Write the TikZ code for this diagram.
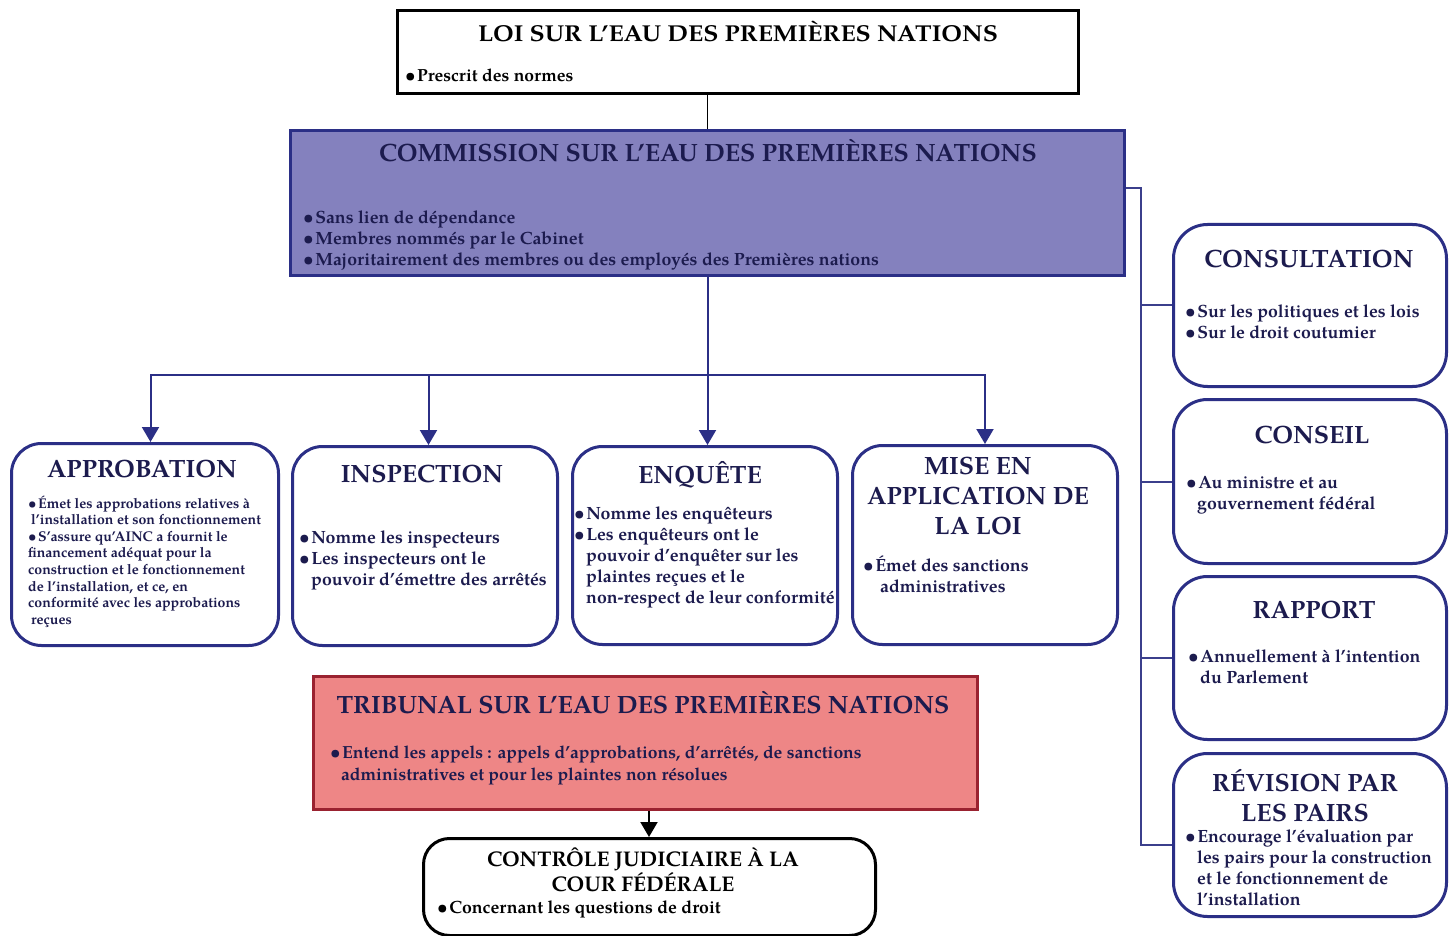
\documentclass[tikz,border=0pt]{standalone}
\usepackage{fontspec}
\setmainfont{texgyrepagella}[Extension=.otf, UprightFont=*-regular, BoldFont=*-bold]
\newfontfamily\wideb{texgyrepagella}[Extension=.otf, UprightFont=*-bold, BoldFont=*-bold, FakeStretch=1.08]
\usetikzlibrary{arrows.meta}
\definecolor{navy}{HTML}{2B2F86}
\definecolor{ink}{HTML}{1C1B4E}
\definecolor{comfill}{HTML}{8481BE}
\definecolor{tribfill}{HTML}{EE8686}
\definecolor{tribline}{HTML}{9A2230}
\definecolor{conn}{HTML}{3B3F8C}
\newcommand\bu{\textbullet\kern1.5pt}
\newcommand\ind[1]{\hspace*{#1pt}}
\begin{document}
\begin{tikzpicture}[x=1pt,y=-1pt,
  rbox/.style={draw=navy, line width=3pt, rounded corners=30pt, fill=white, inner sep=0pt, anchor=north west},
  sbox/.style={line width=3pt, inner sep=0pt, anchor=north west},
  ttl/.style={anchor=base, inner sep=0pt, text=ink, font=\bfseries\fontsize{25}{30}\selectfont},
  mttl/.style={anchor=north, inner sep=0pt, text=ink, align=center, font=\bfseries\fontsize{25}{30}\selectfont, execute at begin node=\strut},
  blt/.style={anchor=north west, inner sep=0pt, text=ink, align=left, font=\bfseries\fontsize{17.7}{21}\selectfont, execute at begin node=\strut},
  conline/.style={draw=conn, line width=2pt},
  arr/.style={draw=navy, line width=2pt, -{Triangle[width=17pt,length=15pt]}}
]
\useasboundingbox[fill=white] (0,0) rectangle (1452,936);

% ---- boxes
\node[sbox, draw=black, fill=white, minimum width=681pt, minimum height=83pt] (law) at (396,9) {};
\node[sbox, draw=navy, fill=comfill, minimum width=834pt, minimum height=145pt] (com) at (289,129) {};
\node[rbox, minimum width=267pt, minimum height=202pt] (appro) at (10,442) {};
\node[rbox, minimum width=265pt, minimum height=199pt] (insp) at (291,445) {};
\node[rbox, minimum width=265pt, minimum height=198pt] (enq) at (571,445) {};
\node[rbox, minimum width=265pt, minimum height=199pt] (mise) at (851,444) {};
\node[rbox, rounded corners=34pt, minimum width=273pt, minimum height=162pt] (consul) at (1172,223) {};
\node[rbox, rounded corners=34pt, minimum width=273pt, minimum height=164pt] (conseil) at (1172,398) {};
\node[rbox, rounded corners=34pt, minimum width=273pt, minimum height=163pt] (rapport) at (1172,575) {};
\node[rbox, rounded corners=34pt, minimum width=273pt, minimum height=163pt] (revision) at (1172,752) {};
\node[sbox, draw=tribline, fill=tribfill, minimum width=664pt, minimum height=133pt] (trib) at (312,675) {};
\node[rbox, draw=black, rounded corners=26pt, minimum width=452pt, minimum height=97pt] (ctrl) at (422,837) {};

% ---- connectors
\draw[draw=black, line width=1.5pt] (com.north |- law.south) -- (com.north);
\coordinate (bar) at (706,375);
\draw[arr] (com.south) -- (com.south |- enq.north);
\draw[arr] (bar) -| ([xshift=5.5pt]appro.north);
\draw[arr] (bar) -| ([xshift=3.5pt]insp.north);
\draw[arr] (bar) -| (mise.north);
\coordinate (rj) at (1141,188);
\draw[conline] (com.east |- rj) -- (rj) |- ([yshift=-9.5pt]revision.west);
\draw[conline] (rj |- consul.west) -- (consul.west);
\draw[conline] (rj |- conseil.west) -- (conseil.west);
\draw[conline] (rj |- rapport.west) -- (rapport.west);
\coordinate (tj) at (649,0);
\draw[draw=black, line width=2pt, -{Triangle[width=17pt,length=15pt]}] (trib.south -| tj) -- (ctrl.north -| tj);

% ---- texts
\node[ttl, text=black, font=\wideb\fontsize{23}{28}\selectfont] (lawt) at (738,41.5) {LOI SUR L’EAU DES PREMIÈRES NATIONS};
\node[anchor=base west, inner sep=0pt, font=\bfseries\fontsize{17.5}{21}\selectfont] (lawb) at (405,81.5) {\bu Prescrit des normes};

\node[ttl] (comt) at (708,162) {COMMISSION SUR L’EAU DES PREMIÈRES NATIONS};
\node[blt] (comb) at (303,210.8) {\bu Sans lien de dépendance\\ \bu Membres nommés par le Cabinet\\ \bu Majoritairement des membres ou des employés des Premières nations};

\node[ttl] (appt) at (142,477) {APPROBATION};
\node[blt, font=\bfseries\fontsize{14.1}{16.6}\selectfont] (appb) at (28,495.4) {\bu Émet les approbations relatives à\\ \ind{3}l’installation et son fonctionnement\\ \bu S’assure qu’AINC a fournit le\\ financement adéquat pour la\\ construction et le fonctionnement\\ de l’installation, et ce, en\\ conformité avec les approbations\\ \ind{3}reçues};

\node[ttl] (inst) at (422,482) {INSPECTION};
\node[blt] (insb) at (299,531) {\bu Nomme les inspecteurs\\ \bu Les inspecteurs ont le\\ \ind{12}pouvoir d’émettre des arrêtés};

\node[ttl] (enqt) at (700,483) {ENQUÊTE};
\node[blt] (enqb) at (574,506.5) {\bu Nomme les enquêteurs\\ \bu Les enquêteurs ont le\\ \ind{12}pouvoir d’enquêter sur les\\ \ind{12}plaintes reçues et le\\ \ind{12}non-respect de leur conformité};

\node[mttl] (miset) at (978,457) {MISE EN\\ APPLICATION DE\\ LA LOI};
\node[blt] (miseb) at (863,555.3) {\bu Émet des sanctions\\ \ind{17}administratives};

\node[ttl] (const) at (1309,268) {CONSULTATION};
\node[blt] (consb) at (1185,305) {\bu Sur les politiques et les lois\\ \bu Sur le droit coutumier};

\node[ttl] (conset) at (1312,443) {CONSEIL};
\node[blt] (conseb) at (1186,476) {\bu Au ministre et au\\ \ind{11}gouvernement fédéral};

\node[ttl] (rapt) at (1314,618) {RAPPORT};
\node[blt] (rapb) at (1188,649.3) {\bu Annuellement à l’intention\\ \ind{12}du Parlement};

\node[mttl] (revt) at (1305,769) {RÉVISION PAR\\ LES PAIRS};
\node[blt] (revb) at (1185,830) {\bu Encourage l’évaluation par\\ \ind{12}les pairs pour la construction\\ \ind{12}et le fonctionnement de\\ \ind{12}l’installation};

\node[ttl] (tribt) at (643,713) {TRIBUNAL SUR L’EAU DES PREMIÈRES NATIONS};
\node[blt, font=\bfseries\fontsize{17.5}{22.5}\selectfont] (tribb) at (330,745.3) {\bu Entend les appels : appels d’approbations, d’arrêtés, de sanctions\\ \ind{11}administratives et pour les plaintes non résolues};

\node[mttl, text=black, font=\bfseries\fontsize{21.2}{25}\selectfont] (ctrlt) at (643,847.5) {CONTRÔLE JUDICIAIRE À LA\\ COUR FÉDÉRALE};
\node[anchor=base west, inner sep=0pt, font=\bfseries\fontsize{17.7}{21}\selectfont] (ctrlb) at (437,913) {\bu Concernant les questions de droit};
\end{tikzpicture}
\end{document}
